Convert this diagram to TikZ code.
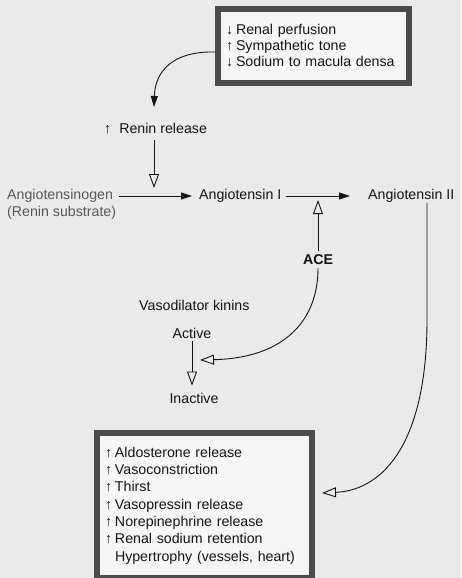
\documentclass[tikz,border=0pt]{standalone}
\usepackage{fontspec}
\setmainfont{Liberation Sans}
\usetikzlibrary{arrows.meta}
\definecolor{bg}{RGB}{234,234,234}
\definecolor{boxbg}{RGB}{246,246,246}
\definecolor{frame}{RGB}{75,75,75}
\definecolor{ink}{RGB}{20,20,20}
\newcommand{\upar}{\makebox[10pt][l]{↑}}
\newcommand{\dnar}{\makebox[10pt][l]{↓}}
\begin{document}
\begin{tikzpicture}[x=1pt,y=-1pt,
  lbl/.style={font=\fontsize{14.2}{17}\selectfont, text=ink, inner sep=0pt},
  panel/.style={draw=frame, line width=6pt, fill=boxbg, align=left, text=ink,
    inner xsep=8pt, inner ysep=0pt, anchor=north west},
  solidarrow/.style={draw=ink, line width=0.9pt, -{Triangle[length=11pt,width=7pt]}},
  openarrow/.style={draw=ink, line width=0.9pt, -{Triangle[open,length=14pt,width=10pt,line width=0.9pt]}},
]
\fill[bg] (0,0) rectangle (461,578);
\useasboundingbox (0,0) rectangle (461,578);

% boxes
\node[panel, text width=175pt, minimum height=74pt,
      font=\fontsize{14.2}{16}\selectfont] (stim) at (215,6)
  {\dnar Renal perfusion\\ \upar Sympathetic tone\\ \dnar Sodium to macula densa};
\node[panel, text width=199pt, minimum height=145pt,
      font=\fontsize{14.2}{17.3}\selectfont] (eff) at (94,430)
  {\upar Aldosterone release\\ \upar Vasoconstriction\\ \upar Thirst\\
   \upar Vasopressin release\\ \upar Norepinephrine release\\
   \upar Renal sodium retention\\ \hspace*{10pt}Hypertrophy (vessels, heart)};

% labels
\node[lbl, anchor=west] (renin) at (104,129) {↑\hspace{8pt}Renin release};
\node[lbl, anchor=west, align=left, text=black!65] (agen) at (7,204.5)
  {Angiotensinogen\\(Renin substrate)};
\node[lbl, anchor=west] (a1) at (199,196) {Angiotensin I};
\node[lbl, anchor=west] (a2) at (368,196) {Angiotensin II};
\node[lbl, font=\fontsize{14.2}{17}\selectfont\bfseries] (ace) at (318,260) {ACE};
\node[lbl, anchor=west] (kin) at (139,305) {Vasodilator kinins};
\node[lbl] (act) at (192,333) {Active};
\node[lbl] (inact) at (194,398) {Inactive};

% free ends
\coordinate (rtop) at (154,140);
\coordinate (rtip) at (154,188);
\coordinate (acetip) at (318,200);
\coordinate (kintip) at (200,360);
\coordinate (a2bend) at (427,320);
\coordinate (efftip) at (322,493);

% connectors
\draw[solidarrow] ([yshift=-6pt]stim.west) .. controls (172,51) and (155,72) .. (154,107);
\draw[openarrow] (rtop) -- (rtip);
\draw[solidarrow] ([xshift=3pt]agen.east |- a1.west) -- ([xshift=-7pt]a1.west);
\draw[solidarrow] ([xshift=4pt]a1.east) -- ([xshift=-18pt]a2.west);
\draw[openarrow] ([yshift=4pt]ace.north) -- (acetip);
\draw[openarrow] ([yshift=-3pt]ace.south) .. controls (318,320) and (285,358) .. (kintip);
\draw[openarrow, shorten <=3pt] (act.south) -- ([yshift=7pt]act.south |- inact.north);
\draw[openarrow] (a2.south -| a2bend) -- (a2bend) .. controls (427,440) and (385,490) .. (efftip);
\end{tikzpicture}
\end{document}
